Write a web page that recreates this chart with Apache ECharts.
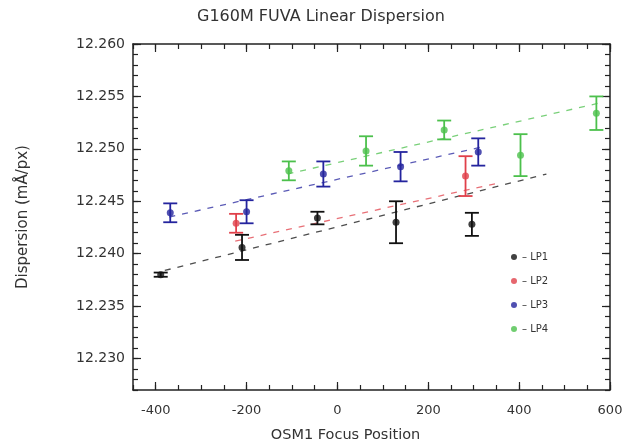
<!DOCTYPE html>
<html>
<head>
<meta charset="utf-8">
<script src="https://cdn.jsdelivr.net/npm/echarts@6/dist/echarts.min.js"></script>
<style>html,body{margin:0;padding:0;background:#fff;}#c{width:641px;height:448px;}</style>
</head>
<body>
<div id="c"></div>
<script>
// ---- data ----
const lp1X = [-389, -210, -44, 129, 296];
const lp1Y = [12.2380, 12.2406, 12.2434, 12.2430, 12.2428];
const lp1Err = [0.0002, 0.0012, 0.0006, 0.0020, 0.0011];

const lp2X = [-223, 282];
const lp2Y = [12.2429, 12.2474];
const lp2Err = [0.0009, 0.0019];

const lp3X = [-368, -200, -31, 139, 310];
const lp3Y = [12.2439, 12.2440, 12.2476, 12.2483, 12.2497];
const lp3Err = [0.0009, 0.0011, 0.0012, 0.0014, 0.0013];

const lp4X = [-107, 63, 235, 403, 570];
const lp4Y = [12.2479, 12.2498, 12.2518, 12.2494, 12.2534];
const lp4Err = [0.0009, 0.0014, 0.0009, 0.0020, 0.0016];

// dashed fit lines (end points)
const fit1X = [-380, 460], fit1Y = [12.2384, 12.2476];
const fit2X = [-225, 350], fit2Y = [12.2412, 12.2467];
const fit3X = [-370, 320], fit3Y = [12.2435, 12.2502];
const fit4X = [-110, 580], fit4Y = [12.2476, 12.2544];

const seriesNames = ['LP1', 'LP2', 'LP3', 'LP4'];
const xMajor = [-400, -200, 0, 200, 400, 600];
const yMajor = [12.230, 12.235, 12.240, 12.245, 12.250, 12.255, 12.260];
const xMin = -450, xMax = 600, yMin = 12.227, yMax = 12.260;

const colors = ['#111111', '#e0404a', '#24249e', '#4cc04c'];

const xMinor = []; for (let v = -450; v <= 600; v += 50) xMinor.push(v);
const yMinor = []; for (let k = 12227; k <= 12260; k++) yMinor.push(k / 1000);

function pts(xs, ys) { return xs.map((x, i) => [x, ys[i]]); }
function errPts(xs, ys, es) { return xs.map((x, i) => [x, ys[i], es[i]]); }

const groups = [
  [lp1X, lp1Y, lp1Err, fit1X, fit1Y],
  [lp2X, lp2Y, lp2Err, fit2X, fit2Y],
  [lp3X, lp3Y, lp3Err, fit3X, fit3Y],
  [lp4X, lp4Y, lp4Err, fit4X, fit4Y]
];

const series = [];
groups.forEach((g, i) => {
  const col = colors[i];
  series.push({
    type: 'line', name: seriesNames[i] + 'fit', data: pts(g[3], g[4]),
    xAxisIndex: 0, yAxisIndex: 0, symbol: 'none', silent: true,
    lineStyle: { color: col, width: 1.3, type: [6, 7], opacity: 0.75 }, z: 2
  });
  series.push({
    type: 'custom', name: seriesNames[i] + 'err', xAxisIndex: 0, yAxisIndex: 0,
    data: errPts(g[0], g[1], g[2]), encode: { x: 0, y: 1 }, z: 3,
    renderItem: function (params, api) {
      const x = api.value(0), y = api.value(1), e = api.value(2);
      const t = api.coord([x, y + e]), b = api.coord([x, y - e]);
      const w = 7;
      const st = { stroke: col, lineWidth: 1.8 };
      return { type: 'group', children: [
        { type: 'line', shape: { x1: t[0], y1: t[1], x2: b[0], y2: b[1] }, style: st },
        { type: 'line', shape: { x1: t[0] - w, y1: t[1], x2: t[0] + w, y2: t[1] }, style: st },
        { type: 'line', shape: { x1: b[0] - w, y1: b[1], x2: b[0] + w, y2: b[1] }, style: st }
      ]};
    }
  });
  series.push({
    type: 'scatter', name: seriesNames[i], data: pts(g[0], g[1]),
    xAxisIndex: 0, yAxisIndex: 0, symbol: 'circle', symbolSize: 7,
    itemStyle: { color: col }, z: 4
  });
});

const tickLine = { lineStyle: { color: '#222', width: 1.2 } };
const font = 'DejaVu Sans';
const hidden = { show: false, onZero: false };
const shownLine = { show: true, onZero: false, lineStyle: { color: '#222', width: 1.5 } };

const option = {
  animation: false,
  backgroundColor: '#fff',
  title: {
    text: 'G160M FUVA Linear Dispersion', left: 192, top: 4,
    textStyle: { fontFamily: font, fontSize: 16, fontWeight: 'normal', color: '#333' }
  },
  grid: { left: 133, right: 31, top: 44, bottom: 57 },
  legend: {
    data: seriesNames, orient: 'vertical', left: 506, top: 247, itemGap: 14,
    icon: 'circle', itemWidth: 6, itemHeight: 6,
    formatter: n => '\u2013 ' + n,
    textStyle: { fontFamily: font, fontSize: 10, color: '#333' }
  },
  xAxis: [
    { type: 'value', min: xMin, max: xMax, position: 'bottom',
      axisLine: shownLine,
      axisTick: { show: true, inside: true, length: 8, customValues: xMajor, ...tickLine },
      axisLabel: { customValues: xMajor, margin: 14, fontFamily: font, fontSize: 13, color: '#333',
        formatter: v => String(v) },
      splitLine: { show: false },
      name: 'OSM1 Focus Position', nameLocation: 'middle', nameGap: 38,
      nameTextStyle: { fontFamily: font, fontSize: 14.5, color: '#333', padding: [0, 52, 0, 0] } },
    { type: 'value', min: xMin, max: xMax, position: 'bottom',
      axisLine: hidden, axisLabel: { show: false }, splitLine: { show: false },
      axisTick: { show: true, inside: true, length: 5, customValues: xMinor, ...tickLine } },
    { type: 'value', min: xMin, max: xMax, position: 'top',
      axisLine: shownLine, axisLabel: { show: false }, splitLine: { show: false },
      axisTick: { show: true, inside: true, length: 8, customValues: xMajor, ...tickLine } },
    { type: 'value', min: xMin, max: xMax, position: 'top',
      axisLine: hidden, axisLabel: { show: false }, splitLine: { show: false },
      axisTick: { show: true, inside: true, length: 5, customValues: xMinor, ...tickLine } }
  ],
  yAxis: [
    { type: 'value', min: yMin, max: yMax, position: 'left',
      axisLine: shownLine,
      axisTick: { show: true, inside: true, length: 8, customValues: yMajor, ...tickLine },
      axisLabel: { customValues: yMajor, margin: 8, fontFamily: font, fontSize: 14, color: '#333',
        formatter: v => v.toFixed(3) },
      splitLine: { show: false },
      name: 'Dispersion (mÅ/px)', nameLocation: 'middle', nameGap: 102, nameRotate: 90,
      nameTextStyle: { fontFamily: font, fontSize: 15, color: '#333' } },
    { type: 'value', min: yMin, max: yMax, position: 'left',
      axisLine: hidden, axisLabel: { show: false }, splitLine: { show: false },
      axisTick: { show: true, inside: true, length: 5, customValues: yMinor, ...tickLine } },
    { type: 'value', min: yMin, max: yMax, position: 'right',
      axisLine: shownLine, axisLabel: { show: false }, splitLine: { show: false },
      axisTick: { show: true, inside: true, length: 8, customValues: yMajor, ...tickLine } },
    { type: 'value', min: yMin, max: yMax, position: 'right',
      axisLine: hidden, axisLabel: { show: false }, splitLine: { show: false },
      axisTick: { show: true, inside: true, length: 5, customValues: yMinor, ...tickLine } }
  ],
  series: series
};

const chart = echarts.init(document.getElementById('c'), null, { renderer: 'canvas' });
chart.setOption(option);
</script>
</body>
</html>
